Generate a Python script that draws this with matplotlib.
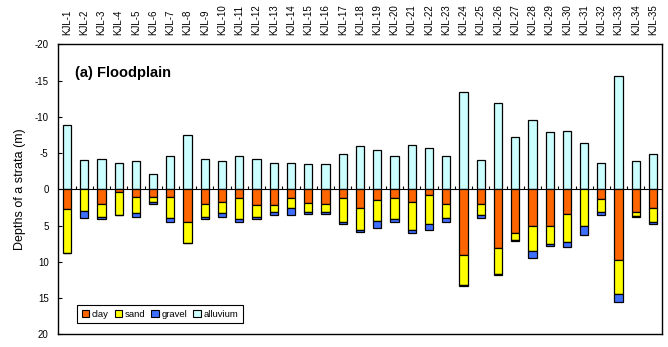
import numpy as np
import matplotlib.pyplot as plt
from matplotlib.patches import Patch

plt.rcParams['font.family'] = 'Liberation Sans'
plt.rcParams['axes.unicode_minus'] = False

## borehole data (m)
wells = ['KJL-%d' % i for i in range(1, 36)]
clay = [2.76, 0.0, 2.07, 0.41, 1.10, 1.10, 1.10, 4.55, 2.07, 1.79,
        1.24, 2.21, 2.21, 1.24, 1.93, 2.07, 1.24, 2.62, 1.52, 1.24,
        1.79, 0.83, 2.07, 9.10, 2.07, 8.14, 6.07, 5.10, 5.10, 3.45,
        0.0, 1.38, 9.79, 3.17, 2.62]
sand = [6.07, 3.03, 1.79, 3.08, 2.21, 0.69, 2.90, 2.85, 1.79, 1.52,
        2.90, 1.65, 0.96, 1.38, 1.24, 1.10, 3.31, 2.99, 2.89, 2.90,
        3.87, 4.00, 1.93, 4.10, 1.52, 3.58, 0.96, 3.45, 2.49, 3.86,
        5.10, 1.79, 4.69, 0.55, 1.93]
gravel = [0.0, 0.97, 0.28, 0.10, 0.55, 0.28, 0.50, 0.05, 0.28, 0.55,
          0.41, 0.28, 0.37, 0.97, 0.28, 0.28, 0.28, 0.32, 0.97, 0.41,
          0.41, 0.83, 0.55, 0.15, 0.41, 0.14, 0.14, 0.97, 0.27, 0.69,
          1.24, 0.42, 1.11, 0.14, 0.28]
alluvium = [8.83, 4.00, 4.14, 3.59, 3.86, 2.10, 4.60, 7.45, 4.14, 3.86,
            4.60, 4.14, 3.59, 3.59, 3.45, 3.45, 4.87, 5.97, 5.38, 4.60,
            6.07, 5.70, 4.60, 13.40, 4.04, 11.86, 7.20, 9.56, 7.86, 8.00,
            6.34, 3.59, 15.60, 3.90, 4.87]

c_clay = '#ff6600'
c_sand = '#ffff00'
c_gravel = '#3f6fff'
c_all = '#ccffff'

clay = np.array(clay)
sand = np.array(sand)
gravel = np.array(gravel)
alluvium = np.array(alluvium)
x = np.arange(len(wells))

fig = plt.figure(figsize=(6.68, 3.47), dpi=100)
ax = fig.add_axes([58.3/668, 1-334.3/347, 603.4/668, 290/347])

w = 0.48
kw = dict(width=w, edgecolor='black', linewidth=0.9, zorder=3)
# alluvium drawn upward (negative depth on inverted axis)
ax.bar(x, -alluvium, color=c_all, **kw)
ax.bar(x, clay, color=c_clay, **kw)
ax.bar(x, sand, bottom=clay, color=c_sand, **kw)
ax.bar(x, gravel, bottom=clay+sand, color=c_gravel, **kw)

ax.set_xlim(-0.5, len(wells)-0.5)
ax.set_ylim(20, -20)
ax.set_yticks(np.arange(-20, 21, 5))
ax.tick_params(axis='y', direction='in', length=3, width=0.8, pad=7, labelsize=7)
ax.set_xticks(x)
ax.set_xticklabels(wells, rotation=90, fontsize=7)
ax.tick_params(axis='x', top=True, bottom=False, labeltop=True, labelbottom=False,
               length=0, pad=7)
for s in ax.spines.values():
    s.set_linewidth(1.0)

# zero line with category tick marks
sec = ax.secondary_xaxis(0.5)
sec.set_xticks(np.arange(0.5, len(wells)-1, 1.0))
sec.set_xticklabels([])
sec.tick_params(direction='out', length=2.5, width=0.8)
sec.spines['bottom'].set_linewidth(1.0)

ax.set_ylabel('Depths of a strata (m)', fontsize=9, labelpad=6)
ax.text(0.028, 0.9, '(a) Floodplain', transform=ax.transAxes, fontsize=10.5,
        fontweight='bold', va='center', ha='left')

handles = [Patch(facecolor=c, edgecolor='black', linewidth=0.8)
           for c in [c_clay, c_sand, c_gravel, c_all]]
leg = ax.legend(handles, ['clay', 'sand', 'gravel', 'alluvium'], ncol=4,
                loc='lower left', bbox_to_anchor=(0.031, 0.038), borderaxespad=0,
                fontsize=6.8, handlelength=0.8, handleheight=0.8,
                handletextpad=0.3, columnspacing=0.6, fancybox=False,
                framealpha=1, edgecolor='black', borderpad=0.5)
leg.get_frame().set_linewidth(0.8)

plt.savefig('out.png', dpi=100)
